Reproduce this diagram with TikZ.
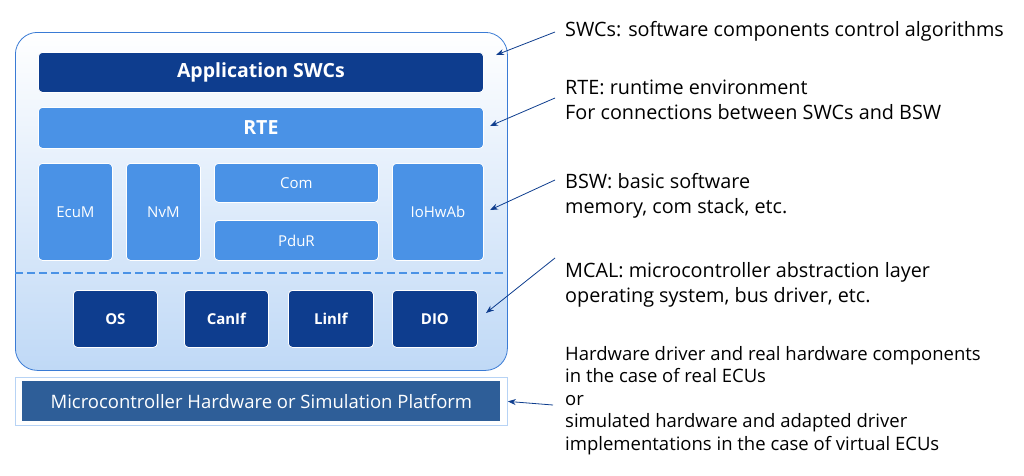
\documentclass[tikz,border=0pt]{standalone}
\usepackage{fontspec}
\setmainfont{Open Sans}
\usetikzlibrary{arrows.meta}
\definecolor{dk}{HTML}{0E3D8E}
\definecolor{md}{HTML}{4A92E6}
\definecolor{hw}{HTML}{2E5E98}
\definecolor{brd}{HTML}{3A7BD5}
\begin{document}
\begin{tikzpicture}[x=1pt,y=-1pt,
 blk/.style={draw=white,line width=0.8pt,rounded corners=4pt,text=white,font=\fontsize{15}{17}\selectfont},
 dkb/.style={blk,fill=dk,font=\bfseries\fontsize{15}{17}\selectfont},
 mdb/.style={blk,fill=md},
 lab/.style={anchor=north west,align=left,font=\fontsize{19.8}{25}\selectfont,inner sep=0pt},
 arr/.style={-{Stealth[length=8pt,width=6pt]},draw=dk,line width=0.8pt}]
\useasboundingbox (0,0) rectangle (1024,475);
\node[draw=brd,line width=0.8pt,rounded corners=22pt,top color=white,bottom color=md!35,minimum width=492,minimum height=338,anchor=north west] (outer) at (15,32) {};
\node[dkb,minimum width=445,minimum height=40,anchor=north west,font=\bfseries\fontsize{19.5}{22}\selectfont] (app) at (38,52) {Application SWCs};
\node[mdb,minimum width=445,minimum height=41,anchor=north west,font=\bfseries\fontsize{19.5}{22}\selectfont] (rte) at (38,107) {RTE};
\node[mdb,minimum width=74,minimum height=97,anchor=north west] (ecum) at (38,163) {EcuM};
\node[mdb,minimum width=74,minimum height=97,anchor=north west] (nvm) at (126,163) {NvM};
\node[mdb,minimum width=164,minimum height=39,anchor=north west] (com) at (214,163) {Com};
\node[mdb,minimum width=164,minimum height=40,anchor=north west] (pdur) at (214,220) {PduR};
\node[mdb,minimum width=91,minimum height=97,anchor=north west] (io) at (392,163) {IoHwAb};
\draw[md,line width=2.5pt,dash pattern=on 8pt off 4pt] (15,273) coordinate (dl) -- (507,273) coordinate (dr);
\node[dkb,minimum width=84,minimum height=57,anchor=north west] (os) at (73,290) {OS};
\node[dkb,minimum width=84,minimum height=57,anchor=north west] (canif) at (184,290) {CanIf};
\node[dkb,minimum width=85,minimum height=57,anchor=north west] (linif) at (288,290) {LinIf};
\node[dkb,minimum width=85,minimum height=57,anchor=north west] (dio) at (392,290) {DIO};
\node[draw=md!40,line width=0.8pt,fill=white,minimum width=492,minimum height=48,anchor=north west] (hwo) at (15,377) {};
\node[fill=hw,text=white,minimum width=478,minimum height=40,font=\fontsize{18.5}{20}\selectfont] (hw) at (hwo.center) {Microcontroller Hardware or Simulation Platform};
\node[lab] (t1) at (565,21) {SWCs: software components control algorithms};
\node[lab] (t2) at (565,80) {RTE: runtime environment\\For connections between SWCs and BSW};
\node[lab] (t3) at (565,173) {BSW: basic software\\memory, com stack, etc.};
\node[lab] (t4) at (565,262) {MCAL: microcontroller abstraction layer\\operating system, bus driver, etc.};
\node[lab,font=\fontsize{18.5}{22.5}\selectfont] (t5) at (565,346) {Hardware driver and real hardware components\\in the case of real ECUs\\or\\simulated hardware and adapted driver\\implementations in the case of virtual ECUs};
\coordinate (a1) at (555,32); \coordinate (a2) at (555,98); \coordinate (a3) at (555,180);
\coordinate (a4) at (555,258); \coordinate (a5) at (553,405);
\draw[arr] (a1) -- (496,55);
\draw[arr] (a2) -- (490,126);
\draw[arr] (a3) -- (490,210);
\draw[arr] (a4) -- (486,313);
\draw[arr] (a5) -- (hwo.east);
\end{tikzpicture}
\end{document}
